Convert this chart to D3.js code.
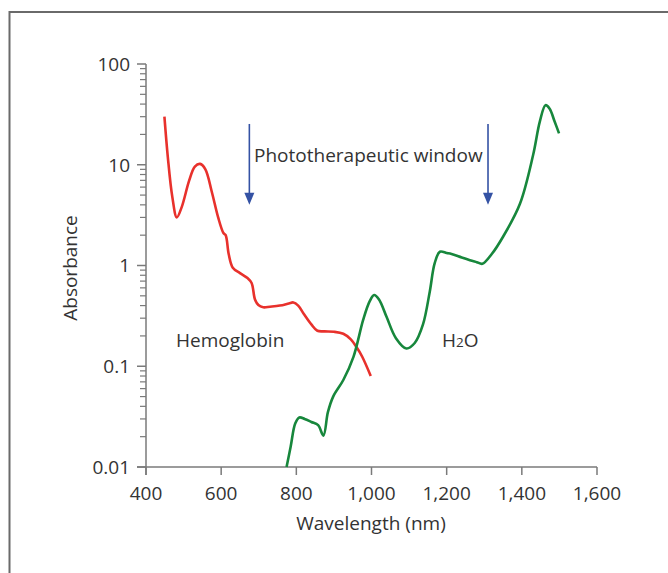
<!DOCTYPE html>
<html><head><meta charset="utf-8">
<script src="https://cdn.jsdelivr.net/npm/d3@7"></script>
<style>
html,body{margin:0;padding:0;background:#fff;}
svg{display:block;}
text{font-family:"Open Sans","Noto Sans",sans-serif;fill:#333;}
</style></head>
<body>
<svg id="chart" width="668" height="573"></svg>
<script>
// Hemoglobin absorbance (wavelength nm, absorbance)
const hbWavelength = [449, 458, 470, 482, 495, 515, 530, 544, 558, 575, 592, 606, 612, 620, 631, 650, 670, 681, 690, 699, 712, 730, 756, 780, 792, 805, 820, 840, 856, 875, 900, 925, 945, 960, 975, 998];
const hbAbsorb     = [30,  12,  4.8, 3.0, 3.8, 7.0, 9.6, 10.2, 9.0, 5.4, 3.0, 2.1, 2.0, 1.3, 0.95, 0.84, 0.75, 0.67, 0.46, 0.405, 0.385, 0.39, 0.40, 0.42, 0.43, 0.40, 0.33, 0.26, 0.225, 0.222, 0.22, 0.21, 0.185, 0.155, 0.125, 0.08];
// Water absorbance
const h2oWavelength = [774, 785, 797, 808, 822, 840, 858, 872, 884, 898, 925, 952, 978, 995, 1007, 1020, 1040, 1065, 1093, 1115, 1137, 1155, 1168, 1182, 1200, 1213, 1240, 1262, 1280, 1295, 1320, 1350, 1395, 1430, 1448, 1463, 1474, 1487, 1499];
const h2oAbsorb     = [0.01, 0.016, 0.027, 0.031, 0.030, 0.028, 0.026, 0.0205, 0.035, 0.05, 0.073, 0.124, 0.29, 0.44, 0.51, 0.46, 0.31, 0.19, 0.15, 0.17, 0.26, 0.55, 1.05, 1.37, 1.33, 1.3, 1.2, 1.13, 1.08, 1.04, 1.3, 1.93, 4.1, 12.5, 27, 39, 36, 27, 20.5];
// Phototherapeutic window arrows
const arrowWavelength = [675, 1310];
const arrowTop = 25.4;
const arrowBottom = 4.0;
// Ticks
const xTicks = [400, 600, 800, 1000, 1200, 1400, 1600];
const yMajorTicks = [100, 10, 1, 0.1, 0.01];
const yTickLabels = ["100", "10", "1", "0.1", "0.01"];

const FS = 19;
const svg = d3.select("#chart");
const x = d3.scaleLinear().domain([400, 1600]).range([146, 597]);
const y = d3.scaleLog().domain([0.01, 100]).range([467, 64]);

// frame
svg.append("rect").attr("x", 9.5).attr("y", 12).attr("width", 700).attr("height", 600)
  .attr("fill", "none").attr("stroke", "#6a6a6a").attr("stroke-width", 2);

const axisColor = "#7a7a7a";
// x axis
const gx = svg.append("g").attr("transform", "translate(0,467)");
gx.append("line").attr("x1", 137).attr("x2", x(1600)).attr("stroke", axisColor).attr("stroke-width", 1.5);
xTicks.forEach(t => {
  gx.append("line").attr("x1", x(t)).attr("x2", x(t)).attr("y1", 0).attr("y2", 8)
    .attr("stroke", axisColor).attr("stroke-width", 1.5);
  gx.append("text").attr("x", x(t)).attr("y", 33).attr("text-anchor", "middle")
    .attr("font-size", FS).text(d3.format(",")(t));
});
svg.append("text").attr("x", 371).attr("y", 530).attr("text-anchor", "middle")
  .attr("font-size", FS).text("Wavelength (nm)");

// y axis
const gy = svg.append("g");
gy.append("line").attr("x1", 146).attr("x2", 146).attr("y1", y(100)).attr("y2", 475)
  .attr("stroke", axisColor).attr("stroke-width", 1.5);
const minor = [];
[0.01, 0.1, 1, 10].forEach(d => { for (let k = 2; k <= 9; k++) minor.push(d * k); });
minor.forEach(t => {
  gy.append("line").attr("x1", 140).attr("x2", 146).attr("y1", y(t)).attr("y2", y(t))
    .attr("stroke", axisColor).attr("stroke-width", 1.2);
});
yMajorTicks.forEach((t, i) => {
  gy.append("line").attr("x1", 137).attr("x2", 146).attr("y1", y(t)).attr("y2", y(t))
    .attr("stroke", axisColor).attr("stroke-width", 1.5);
  gy.append("text").attr("x", 130).attr("y", y(t)).attr("dy", "0.36em").attr("text-anchor", "end")
    .attr("font-size", FS).text(yTickLabels[i]);
});
svg.append("text").attr("transform", "translate(77,268) rotate(-90)").attr("text-anchor", "middle")
  .attr("font-size", FS).text("Absorbance");

// curves
const line = d3.line().x(d => x(d[0])).y(d => y(d[1])).curve(d3.curveCatmullRom.alpha(0.5));
svg.append("path").datum(d3.zip(hbWavelength, hbAbsorb)).attr("d", line)
  .attr("fill", "none").attr("stroke", "#e8312c").attr("stroke-width", 2.6).attr("stroke-linejoin", "round");
svg.append("path").datum(d3.zip(h2oWavelength, h2oAbsorb)).attr("d", line)
  .attr("fill", "none").attr("stroke", "#17873c").attr("stroke-width", 2.6).attr("stroke-linejoin", "round");

// arrows
const arrowColor = "#3452a4";
arrowWavelength.forEach(w => {
  const ax = x(w), y0 = y(arrowTop), y1 = y(arrowBottom);
  svg.append("line").attr("x1", ax).attr("x2", ax).attr("y1", y0).attr("y2", y1 - 8)
    .attr("stroke", arrowColor).attr("stroke-width", 1.6);
  svg.append("path").attr("d", `M${ax - 5},${y1 - 12} L${ax + 5},${y1 - 12} L${ax},${y1} Z`).attr("fill", arrowColor);
});

// labels
svg.append("text").attr("x", 254).attr("y", 162).attr("font-size", FS).text("Phototherapeutic window");
svg.append("text").attr("x", 176).attr("y", 347).attr("font-size", FS).text("Hemoglobin");
const h2o = svg.append("text").attr("x", 442).attr("y", 347).attr("font-size", FS);
h2o.append("tspan").text("H");
h2o.append("tspan").attr("font-size", 13.5).text("2");
h2o.append("tspan").text("O");
</script>
</body></html>
